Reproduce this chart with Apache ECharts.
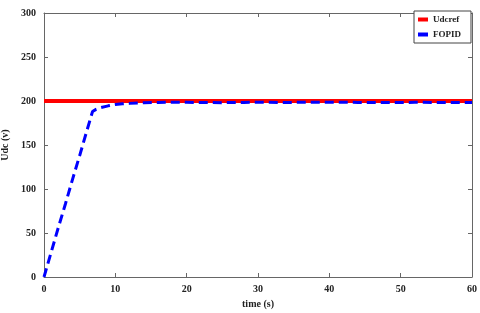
<!DOCTYPE html>
<html><head><meta charset="utf-8">
<script src="https://cdn.jsdelivr.net/npm/echarts@6/dist/echarts.min.js"></script>
<style>html,body{margin:0;padding:0;background:#fff}#c{width:480px;height:313px}</style>
</head><body><div id="c"></div>
<script>
var xTicks = [0, 10, 20, 30, 40, 50, 60];
var yTicks = [0, 50, 100, 150, 200, 250, 300];
var refTime = [0, 60];
var refValues = [200, 200];
var fopidTime = [0, 1, 2, 3, 4, 5, 6, 6.8, 7.3, 8, 9, 10, 11, 12, 14, 16, 18, 20, 22, 25, 28, 30, 33, 36, 40, 44, 48, 52, 56, 60];
var fopidValues = [0, 28, 56, 83, 111, 138, 166, 188, 190.5, 192.5, 194.5, 196, 196.8, 197.3, 198, 198.4, 198.6, 198.5, 198.3, 198.1, 198.4, 198.6, 198.3, 198.5, 198.7, 198.4, 198.2, 198.5, 198.3, 198.4];
var seriesNames = ['Udcref', 'FOPID'];

var font = 'Liberation Serif';
var chart = echarts.init(document.getElementById('c'));
function zip(a, b) { return a.map(function (v, i) { return [v, b[i]]; }); }
function axisLine() { return { show: true, onZero: false, lineStyle: { color: '#666', width: 1 } }; }
function tick() { return { show: true, inside: true, length: 4, lineStyle: { color: '#666', width: 1 } }; }
chart.setOption({
  animation: false,
  backgroundColor: '#fff',
  grid: { left: 44, top: 13, right: 8, bottom: 36, show: false, containLabel: false, outerBoundsMode: 'none' },
  legend: {
    left: 414, top: 11, orient: 'vertical', itemGap: 6, icon: 'rect',
    padding: [4, 10, 4, 4], itemWidth: 10, itemHeight: 4,
    backgroundColor: '#fff', borderColor: '#444', borderWidth: 1,
    textStyle: { fontFamily: font, fontWeight: 'bold', fontSize: 9, color: '#222', padding: [0, 0, 3, 0] },
    data: seriesNames
  },
  xAxis: [{
    type: 'value', min: 0, max: 60, interval: 10, position: 'bottom',
    name: 'time (s)', nameLocation: 'middle', nameGap: 22,
    nameTextStyle: { fontFamily: font, fontWeight: 'bold', fontSize: 10, color: '#222' },
    axisLine: axisLine(), axisTick: tick(),
    axisLabel: { fontFamily: font, fontWeight: 'bold', fontSize: 10, color: '#222', margin: 7 },
    splitLine: { show: false }
  }, {
    type: 'value', min: 0, max: 60, interval: 10, position: 'top',
    axisLine: axisLine(), axisTick: tick(),
    axisLabel: { show: false }, splitLine: { show: false }
  }],
  yAxis: [{
    type: 'value', min: 0, max: 300, interval: 50, position: 'left',
    name: 'Udc (v)', nameLocation: 'middle', nameGap: 34, nameRotate: 90, nameMoveOverlap: false,
    nameTextStyle: { fontFamily: font, fontWeight: 'bold', fontSize: 10, color: '#222', padding: [10, 0, 0, 0] },
    axisLine: axisLine(), axisTick: tick(),
    axisLabel: { fontFamily: font, fontWeight: 'bold', fontSize: 10, color: '#222', margin: 8 },
    splitLine: { show: false }
  }, {
    type: 'value', min: 0, max: 300, interval: 50, position: 'right',
    axisLine: axisLine(), axisTick: tick(),
    axisLabel: { show: false }, splitLine: { show: false }
  }],
  series: [{
    name: seriesNames[0], type: 'line', showSymbol: false, symbol: 'none',
    data: zip(refTime, refValues),
    lineStyle: { color: '#ff0000', width: 4 }, itemStyle: { color: '#ff0000' }
  }, {
    name: seriesNames[1], type: 'line', showSymbol: false, symbol: 'none', smooth: false,
    data: zip(fopidTime, fopidValues),
    lineStyle: { color: '#0000ff', width: 3, type: [9, 5] }, itemStyle: { color: '#0000ff' }
  }]
});
</script></body></html>
